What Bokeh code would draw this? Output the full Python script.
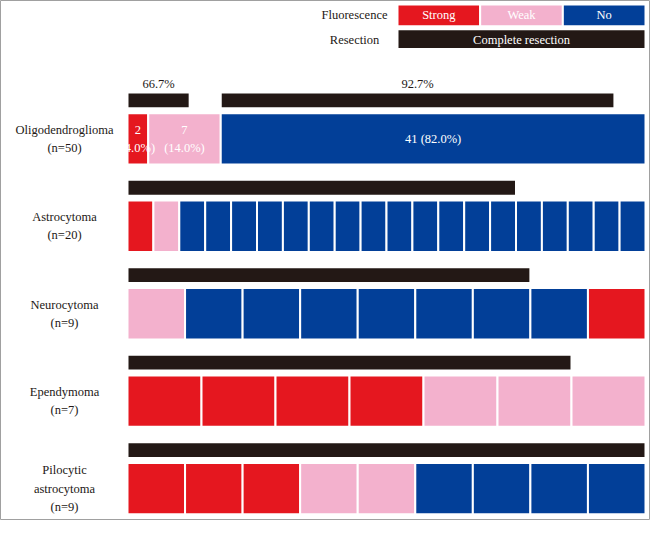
from bokeh.plotting import figure
from bokeh.models import Range1d, ColumnDataSource
from bokeh.embed import file_html
from bokeh.resources import INLINE
from bokeh.core.properties import value

# ---------------- data ----------------
row_labels = ["Oligodendroglioma", "Astrocytoma", "Neurocytoma", "Ependymoma", "Pilocytic\nastrocytoma"]
n_cases = [50, 20, 9, 7, 9]
# fluorescence per row, in drawing order: (grade, number of cases)
fluor_segments = [
    [("Strong", 2), ("Weak", 7), ("No", 41)],
    [("Strong", 1), ("Weak", 1), ("No", 18)],
    [("Weak", 1), ("No", 7), ("Strong", 1)],
    [("Strong", 4), ("Weak", 3)],
    [("Strong", 3), ("Weak", 2), ("No", 4)],
]
one_cell_per_case = [False, True, True, True, True]
# resection groups per row: (first case index, cases in group, completely resected)
resection_groups = [
    [(0, 9, 6), (9, 41, 38)],
    [(0, 20, 15)],
    [(0, 9, 7)],
    [(0, 7, 6)],
    [(0, 9, 9)],
]
resection_labels = [["66.7%", "92.7%"], [""], [""], [""], [""]]
grades = ["Strong", "Weak", "No"]

# ---------------- styles / layout ----------------
COL = {"Strong": "#E5171F", "Weak": "#F3B1CD", "No": "#023F98"}
BLACK = "#231815"
FONT = value("Liberation Serif")
FS = "12.5px"

W, H = 650, 520
X0, X1 = 127, 645            # canvas px of x=0 and x=1
XS = X1 - X0
def fx(px):
    return (px - X0) / XS

YS = 0.988
def fy(ref_y):               # vertical layout position (canvas px from top)
    return 4 + (ref_y - 8) * YS

ROW_TOP = [fy(118 + i * 88.5) for i in range(len(row_labels))]
BAR_H = 52 * YS
RES_GAP, RES_H = 5 * YS, 16 * YS

p = figure(width=W, height=H, output_backend="svg", toolbar_location=None,
           x_axis_type=None, y_axis_type=None, min_border=0,
           x_range=Range1d(fx(0), fx(W)), y_range=Range1d(H, 0))
p.grid.visible = False
p.outline_line_color = "#a0a0a0"
p.outline_line_width = 1
p.background_fill_color = "white"
p.border_fill_color = "white"

cells = dict(l=[], r=[], t=[], b=[], c=[])
labels = dict(x=[], y=[], s=[])
for i, segs in enumerate(fluor_segments):
    n = n_cases[i]
    top = ROW_TOP[i]
    pos = 0
    for g, cnt in segs:
        if one_cell_per_case[i]:
            for k in range(cnt):
                cells["l"].append((pos + k) / n); cells["r"].append((pos + k + 1) / n)
                cells["t"].append(top); cells["b"].append(top + BAR_H); cells["c"].append(COL[g])
        else:
            cells["l"].append(pos / n); cells["r"].append((pos + cnt) / n)
            cells["t"].append(top); cells["b"].append(top + BAR_H); cells["c"].append(COL[g])
            pct = f"({cnt / n * 100:.1f}%)"
            txt = f"{cnt} {pct}" if cnt / n > 0.3 else f"{cnt}\n{pct}"
            labels["x"].append((pos + cnt / 2) / n); labels["y"].append(top + BAR_H / 2)
            labels["s"].append(txt)
        pos += cnt

p.quad(left="l", right="r", top="t", bottom="b", fill_color="c",
       line_color="white", line_width=2, source=ColumnDataSource(cells))
p.text(x="x", y="y", text="s", source=ColumnDataSource(labels), text_color="white",
       text_font=FONT, text_font_size=FS, text_align="center", text_baseline="middle",
       text_line_height=1.3)

res = dict(l=[], r=[], t=[], b=[])
rlab = dict(x=[], y=[], s=[])
for i, groups in enumerate(resection_groups):
    n = n_cases[i]
    top = ROW_TOP[i] - RES_GAP - RES_H
    for (start, cnt, done), lab in zip(groups, resection_labels[i]):
        res["l"].append(start / n); res["r"].append((start + done) / n)
        res["t"].append(top); res["b"].append(top + RES_H)
        if lab:
            rlab["x"].append((start + done / 2) / n); rlab["y"].append(top - 8); rlab["s"].append(lab)

p.quad(left="l", right="r", top="t", bottom="b", fill_color=BLACK,
       line_color="white", line_width=2, source=ColumnDataSource(res))
p.text(x="x", y="y", text="s", source=ColumnDataSource(rlab), text_color=BLACK,
       text_font=FONT, text_font_size=FS, text_align="center", text_baseline="middle")

# row labels
p.text(x=[fx(64)] * len(row_labels), y=[t + BAR_H / 2 for t in ROW_TOP],
       text=[f"{lab}\n(n={n})" for lab, n in zip(row_labels, n_cases)],
       text_color=BLACK, text_font=FONT, text_font_size=FS, text_align="center",
       text_baseline="middle", text_line_height=1.3)

# legend
LX0, LX1 = 397, X1
bw = (LX1 - LX0) / len(grades)
p.quad(left=[fx(LX0 + k * bw) for k in range(3)], right=[fx(LX0 + (k + 1) * bw) for k in range(3)],
       top=[fy(8)] * 3, bottom=[fy(30)] * 3, fill_color=[COL[g] for g in grades],
       line_color="white", line_width=2)
p.text(x=[fx(LX0 + (k + 0.5) * bw) for k in range(3)], y=[fy(19)] * 3, text=grades,
       text_color="white", text_font=FONT, text_font_size=FS, text_align="center",
       text_baseline="middle")
p.quad(left=[fx(LX0)], right=[fx(LX1)], top=[fy(33)], bottom=[fy(53)], fill_color=BLACK,
       line_color="white", line_width=2)
p.text(x=[fx((LX0 + LX1) / 2)], y=[fy(43.5)], text=["Complete resection"], text_color="white",
       text_font=FONT, text_font_size=FS, text_align="center", text_baseline="middle")
p.text(x=[fx(354)] * 2, y=[fy(19), fy(44)], text=["Fluorescence", "Resection"], text_color=BLACK,
       text_font=FONT, text_font_size=FS, text_align="center", text_baseline="middle")

open("out.html", "w").write(file_html(p, INLINE))
